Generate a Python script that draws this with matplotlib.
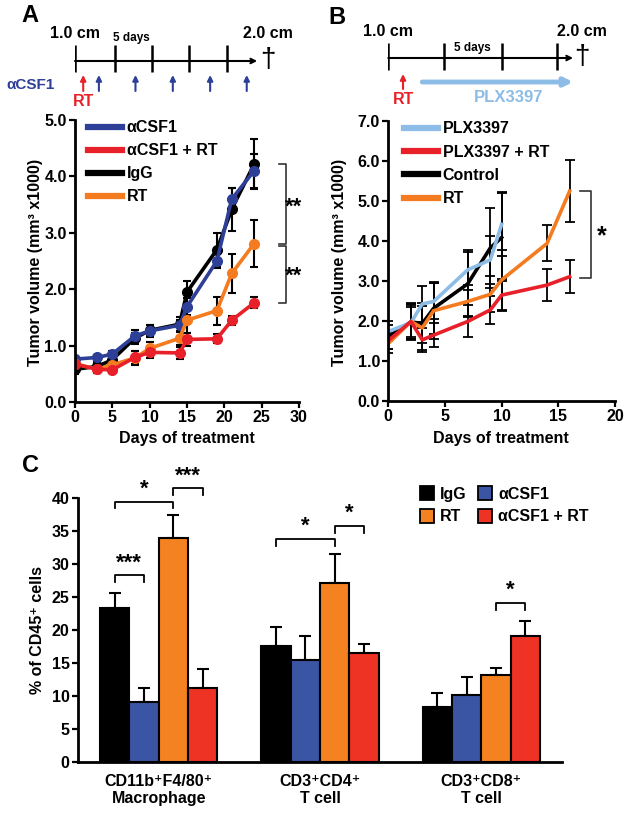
import matplotlib
matplotlib.use("Agg")
import matplotlib.pyplot as plt
from matplotlib.lines import Line2D
from matplotlib.patches import Patch
from matplotlib.ticker import FormatStrFormatter
import numpy as np

plt.rcParams['font.family'] = ['Liberation Sans', 'DejaVu Sans']
plt.rcParams['font.weight'] = 'bold'
plt.rcParams['axes.labelweight'] = 'bold'

# ---------------- data : panel A ----------------
days_a = [0, 3, 5, 8, 10, 14, 15, 19, 21, 24]
igg_a = [0.58, 0.63, 0.75, 1.13, 1.27, 1.38, 1.95, 2.70, 3.42, 4.22]
igg_a_err = [0.08, 0.08, 0.08, 0.10, 0.10, 0.12, 0.20, 0.30, 0.38, 0.45]
acsf1_a = [0.76, 0.79, 0.85, 1.17, 1.26, 1.36, 1.69, 2.50, 3.60, 4.10]
acsf1_a_err = [0.06, 0.05, 0.05, 0.10, 0.10, 0.10, 0.15, 0.12, 0.20, 0.30]
rt_a = [0.68, 0.58, 0.66, 0.78, 0.95, 1.13, 1.45, 1.62, 2.28, 2.81]
rt_a_err = [0.06, 0.06, 0.06, 0.12, 0.12, 0.12, 0.30, 0.25, 0.35, 0.42]
combo_a = [0.67, 0.58, 0.57, 0.79, 0.88, 0.87, 1.11, 1.12, 1.45, 1.76]
combo_a_err = [0.06, 0.06, 0.06, 0.12, 0.10, 0.10, 0.12, 0.08, 0.08, 0.10]

# timeline A (days)
tl_a_ticks = [0, 5.3, 10.3, 15.3, 20.3]
tl_a_rt = 1.1
tl_a_doses = [3.2, 8.1, 13.1, 18.1, 23.0]

# ---------------- data : panel B ----------------
days_b_short = [0, 2, 3, 4, 7, 9, 10]
days_b_long = [0, 2, 3, 4, 7, 9, 10, 14, 16]
plx_b = [1.73, 1.95, 2.42, 2.48, 3.27, 3.52, 4.41]
plx_b_err = [0.25, 0.40, 0.45, 0.45, 0.50, 0.60, 0.80]
ctrl_b = [1.60, 1.97, 1.93, 2.31, 2.92, 3.82, 4.08]
ctrl_b_err = [0.30, 0.45, 0.50, 0.65, 0.80, 1.00, 1.10]
rt_b = [1.43, 1.98, 1.82, 2.25, 2.48, 2.66, 3.02, 3.93, 5.24]
rt_b_err = [0.25, 0.40, 0.55, 0.70, 0.40, 0.45, 0.75, 0.45, 0.77]
combo_b = [1.50, 1.98, 1.52, 1.64, 1.98, 2.27, 2.64, 2.89, 3.10]
combo_b_err = [0.20, 0.45, 0.30, 0.30, 0.40, 0.35, 0.40, 0.40, 0.41]

tl_b_ticks = [0, 4.9, 10.0, 14.9]
tl_b_rt = 1.3
tl_b_plx = [3.0, 16.3]

# ---------------- data : panel C ----------------
cell_types = ['CD11b\u207aF4/80\u207a\nMacrophage', 'CD3\u207aCD4\u207a\nT cell', 'CD3\u207aCD8\u207a\nT cell']
igg_c = [23.3, 17.5, 8.3]
igg_c_err = [2.3, 2.9, 2.1]
acsf1_c = [9.1, 15.4, 10.2]
acsf1_c_err = [2.1, 3.7, 2.65]
rt_c = [33.9, 27.1, 13.1]
rt_c_err = [3.6, 4.45, 1.2]
combo_c = [11.2, 16.5, 19.1]
combo_c_err = [2.9, 1.4, 2.2]

# couleurs
BLACK = '#000000'
BLUE_A = '#2e3f98'
RED = '#e8202a'
ORANGE = '#f47b20'
LBLUE = '#8dbde6'
BLUE_C = '#3a55a4'
RED_C = '#ee3224'
ORANGE_C = '#f58220'

FS = 11.5      # taille du texte courant
W, H = 628, 815
fig = plt.figure(figsize=(W / 100, H / 100), dpi=100)


def px_axes(l, t, r, b):
    return fig.add_axes([l / W, 1 - b / H, (r - l) / W, (b - t) / H])


def style(ax):
    for s in ['top', 'right']:
        ax.spines[s].set_visible(False)
    for s in ['left', 'bottom']:
        ax.spines[s].set_linewidth(2)
    ax.tick_params(direction='out', length=4, width=1.6, labelsize=FS, pad=2)


# ---------------- panel A ----------------
axA = px_axes(75, 120, 299, 402)
style(axA)
series_a = [
    (igg_a, igg_a_err, BLACK),
    (acsf1_a, acsf1_a_err, BLUE_A),
    (rt_a, rt_a_err, ORANGE),
    (combo_a, combo_a_err, RED),
]
for vals, err, col in series_a:
    axA.errorbar(days_a, vals, yerr=err, color=col, lw=2.6, marker='o', ms=7,
                 ecolor='black', elinewidth=1.5, capsize=3, capthick=1.5)
axA.set_xlim(0, 30)
axA.set_ylim(0, 5)
axA.set_xticks(range(0, 31, 5))
axA.set_yticks(np.arange(0, 5.1, 1.0))
axA.yaxis.set_major_formatter(FormatStrFormatter('%.1f'))

# crochets de significativité
axA.plot([27.3, 28.2, 28.2, 27.3], [igg_a[-1], igg_a[-1], rt_a[-1], rt_a[-1]], color='#333333', lw=1.2, clip_on=False)
axA.plot([27.3, 28.2, 28.2, 27.3], [rt_a[-1] - 0.05, rt_a[-1] - 0.05, combo_a[-1], combo_a[-1]], color='#333333', lw=1.2, clip_on=False)
axA.text(29.3, 3.45, '**', ha='center', va='center', fontsize=16)
axA.text(29.3, 2.23, '**', ha='center', va='center', fontsize=16)

handles_a = [Line2D([], [], color=BLUE_A, lw=4.5), Line2D([], [], color=RED, lw=4.5),
             Line2D([], [], color=BLACK, lw=4.5), Line2D([], [], color=ORANGE, lw=4.5)]
fig.legend(handles_a, ['\u03b1CSF1', '\u03b1CSF1 + RT', 'IgG', 'RT'], loc='upper left',
           bbox_to_anchor=(82 / W, 1 - 114 / H), frameon=False, fontsize=FS,
           handlelength=2.1, handletextpad=0.3, labelspacing=0.5, borderaxespad=0)

fig.text(187 / W, 1 - 438 / H, 'Days of treatment', ha='center', va='center', fontsize=FS)
fig.text(36 / W, 1 - 262 / H, 'Tumor volume (mm\u00b3 x1000)', ha='center', va='center',
         rotation=90, fontsize=FS)

# frise A
tlA = px_axes(75, 0, 299, 115)
tlA.set_xlim(0, 30)
tlA.set_ylim(115, 0)
tlA.axis('off')
tlA.annotate('', xy=(24.4, 61), xytext=(0, 61),
             arrowprops=dict(arrowstyle='->', lw=1.5, color='black', shrinkA=0, shrinkB=0, mutation_scale=8))
tlA.vlines(tl_a_ticks, 45, 72, color='black', lw=1.8)
tlA.text(0, 33, '1.0 cm', ha='center', va='center', fontsize=FS)
tlA.text(7.6, 38, '5 days', ha='center', va='center', fontsize=8.5)
tlA.text(25.8, 33, '2.0 cm', ha='center', va='center', fontsize=FS)
tlA.text(25.8, 60, '\u2020', ha='center', va='center', fontsize=20, fontweight='normal')
tlA.text(-6.0, 85, '\u03b1CSF1', ha='center', va='center', fontsize=11, color=BLUE_A)
tlA.annotate('', xy=(tl_a_rt, 75), xytext=(tl_a_rt, 91),
             arrowprops=dict(arrowstyle='-|>', lw=1.5, color=RED, shrinkA=0, shrinkB=0, mutation_scale=8))
tlA.text(tl_a_rt, 102, 'RT', ha='center', va='center', fontsize=FS, color=RED)
for d in tl_a_doses:
    tlA.annotate('', xy=(d, 75), xytext=(d, 91),
                 arrowprops=dict(arrowstyle='-|>', lw=1.5, color=BLUE_A, shrinkA=0, shrinkB=0, mutation_scale=8))

# ---------------- panel B ----------------
axB = px_axes(388.3, 120.7, 615, 400.7)
style(axB)
series_b = [
    (days_b_short, ctrl_b, ctrl_b_err, BLACK),
    (days_b_short, plx_b, plx_b_err, LBLUE),
    (days_b_long, rt_b, rt_b_err, ORANGE),
    (days_b_long, combo_b, combo_b_err, RED),
]
for dd, vals, err, col in series_b:
    axB.errorbar(dd, vals, yerr=err, color=col, lw=2.6,
                 ecolor='black', elinewidth=1.3, capsize=3.5, capthick=1.3)
axB.set_xlim(0, 20)
axB.set_ylim(0, 7)
axB.set_xticks(range(0, 21, 5))
axB.set_yticks(np.arange(0, 7.1, 1.0))
axB.yaxis.set_major_formatter(FormatStrFormatter('%.1f'))

axB.plot([16.9, 17.9, 17.9, 16.9], [rt_b[-1], rt_b[-1], combo_b[-1] - 0.04, combo_b[-1] - 0.04],
         color='#333333', lw=1.2, clip_on=False)
axB.text(18.8, 4.12, '*', ha='center', va='center', fontsize=18)

handles_b = [Line2D([], [], color=LBLUE, lw=4.5), Line2D([], [], color=RED, lw=4.5),
             Line2D([], [], color=BLACK, lw=4.5), Line2D([], [], color=ORANGE, lw=4.5)]
fig.legend(handles_b, ['PLX3397', 'PLX3397 + RT', 'Control', 'RT'], loc='upper left',
           bbox_to_anchor=(398 / W, 1 - 115 / H), frameon=False, fontsize=FS,
           handlelength=2.1, handletextpad=0.3, labelspacing=0.52, borderaxespad=0)

fig.text(501 / W, 1 - 438 / H, 'Days of treatment', ha='center', va='center', fontsize=FS)
fig.text(339 / W, 1 - 262 / H, 'Tumor volume (mm\u00b3 x1000)', ha='center', va='center',
         rotation=90, fontsize=FS)

# frise B
tlB = px_axes(388.3, 0, 615, 115)
tlB.set_xlim(0, 20)
tlB.set_ylim(115, 0)
tlB.axis('off')
tlB.annotate('', xy=(16.3, 58), xytext=(0, 58),
             arrowprops=dict(arrowstyle='->', lw=1.5, color='black', shrinkA=0, shrinkB=0, mutation_scale=8))
tlB.vlines(tl_b_ticks, 43, 70, color='black', lw=1.8)
tlB.text(0, 31, '1.0 cm', ha='center', va='center', fontsize=FS)
tlB.text(7.4, 48, '5 days', ha='center', va='center', fontsize=8.5)
tlB.text(17.1, 31, '2.0 cm', ha='center', va='center', fontsize=FS)
tlB.text(17.1, 57, '\u2020', ha='center', va='center', fontsize=20, fontweight='normal')
tlB.annotate('', xy=(tl_b_rt, 74), xytext=(tl_b_rt, 89),
             arrowprops=dict(arrowstyle='-|>', lw=1.5, color=RED, shrinkA=0, shrinkB=0, mutation_scale=8))
tlB.text(tl_b_rt, 100, 'RT', ha='center', va='center', fontsize=FS, color=RED)
tlB.annotate('', xy=(tl_b_plx[1], 82), xytext=(tl_b_plx[0], 82),
             arrowprops=dict(arrowstyle='-|>', lw=3.5, color=LBLUE, shrinkA=0, shrinkB=0, mutation_scale=12))
tlB.text(10.6, 97, 'PLX3397', ha='center', va='center', fontsize=12, color=LBLUE)

# ---------------- panel C ----------------
axC = px_axes(78, 498.3, 562, 761.7)
style(axC)
group_x = np.arange(len(cell_types)) * 5.5 + 1.25
series_c = [
    (igg_c, igg_c_err, BLACK, 'IgG'),
    (acsf1_c, acsf1_c_err, BLUE_C, '\u03b1CSF1'),
    (rt_c, rt_c_err, ORANGE_C, 'RT'),
    (combo_c, combo_c_err, RED_C, '\u03b1CSF1 + RT'),
]
for k, (vals, err, col, lab) in enumerate(series_c):
    xs = group_x + k
    axC.bar(xs, vals, width=1.0, color=col, edgecolor='black', linewidth=1.5, zorder=2)
    axC.errorbar(xs, vals, yerr=[np.zeros(len(vals)), err], fmt='none', ecolor='black',
                 elinewidth=1.5, capsize=4, capthick=1.5, zorder=1)
axC.set_xlim(0, 16.5)
axC.set_ylim(0, 40)
axC.set_yticks(range(0, 41, 5))
axC.set_xticks(group_x + 1.5)
axC.set_xticklabels(cell_types, fontsize=FS, linespacing=1.12)
axC.tick_params(axis='x', length=0, pad=9)
axC.set_ylabel('% of CD45\u207a cells', fontsize=FS, labelpad=5)


def bracket(ax, x1, x2, y, label, dy=1.0, fs=16):
    ax.plot([x1, x1, x2, x2], [y - dy, y, y, y - dy], color='black', lw=1.3, clip_on=False)
    ax.text((x1 + x2) / 2, y + 0.3, label, ha='center', va='bottom', fontsize=fs, clip_on=False)


bracket(axC, group_x[0], group_x[0] + 2, 39.5, '*')
bracket(axC, group_x[0] + 2, group_x[0] + 3, 41.5, '***')
bracket(axC, group_x[0], group_x[0] + 1, 28.3, '***')
bracket(axC, group_x[1], group_x[1] + 2, 33.8, '*')
bracket(axC, group_x[1] + 2, group_x[1] + 3, 35.8, '*')
bracket(axC, group_x[2] + 2, group_x[2] + 3, 24.1, '*')

handles_c = [Patch(facecolor=c, edgecolor='black', linewidth=1.3) for _, _, c, _ in series_c]
labels_c = [lab for _, _, _, lab in series_c]
# ordre par colonne : IgG, RT | aCSF1, aCSF1 + RT
order = [0, 2, 1, 3]
fig.legend([handles_c[i] for i in order], [labels_c[i] for i in order], ncol=2, loc='upper left',
           bbox_to_anchor=(414 / W, 1 - 480 / H), frameon=False, fontsize=FS,
           handlelength=0.85, handleheight=0.95, handletextpad=0.4, columnspacing=0.7,
           labelspacing=0.45, borderaxespad=0)

# lettres des panneaux
fig.text(30 / W, 1 - 16 / H, 'A', ha='center', va='center', fontsize=17)
fig.text(337 / W, 1 - 17 / H, 'B', ha='center', va='center', fontsize=17)
fig.text(30 / W, 1 - 466 / H, 'C', ha='center', va='center', fontsize=17)

fig.savefig('out.png', dpi=100)
